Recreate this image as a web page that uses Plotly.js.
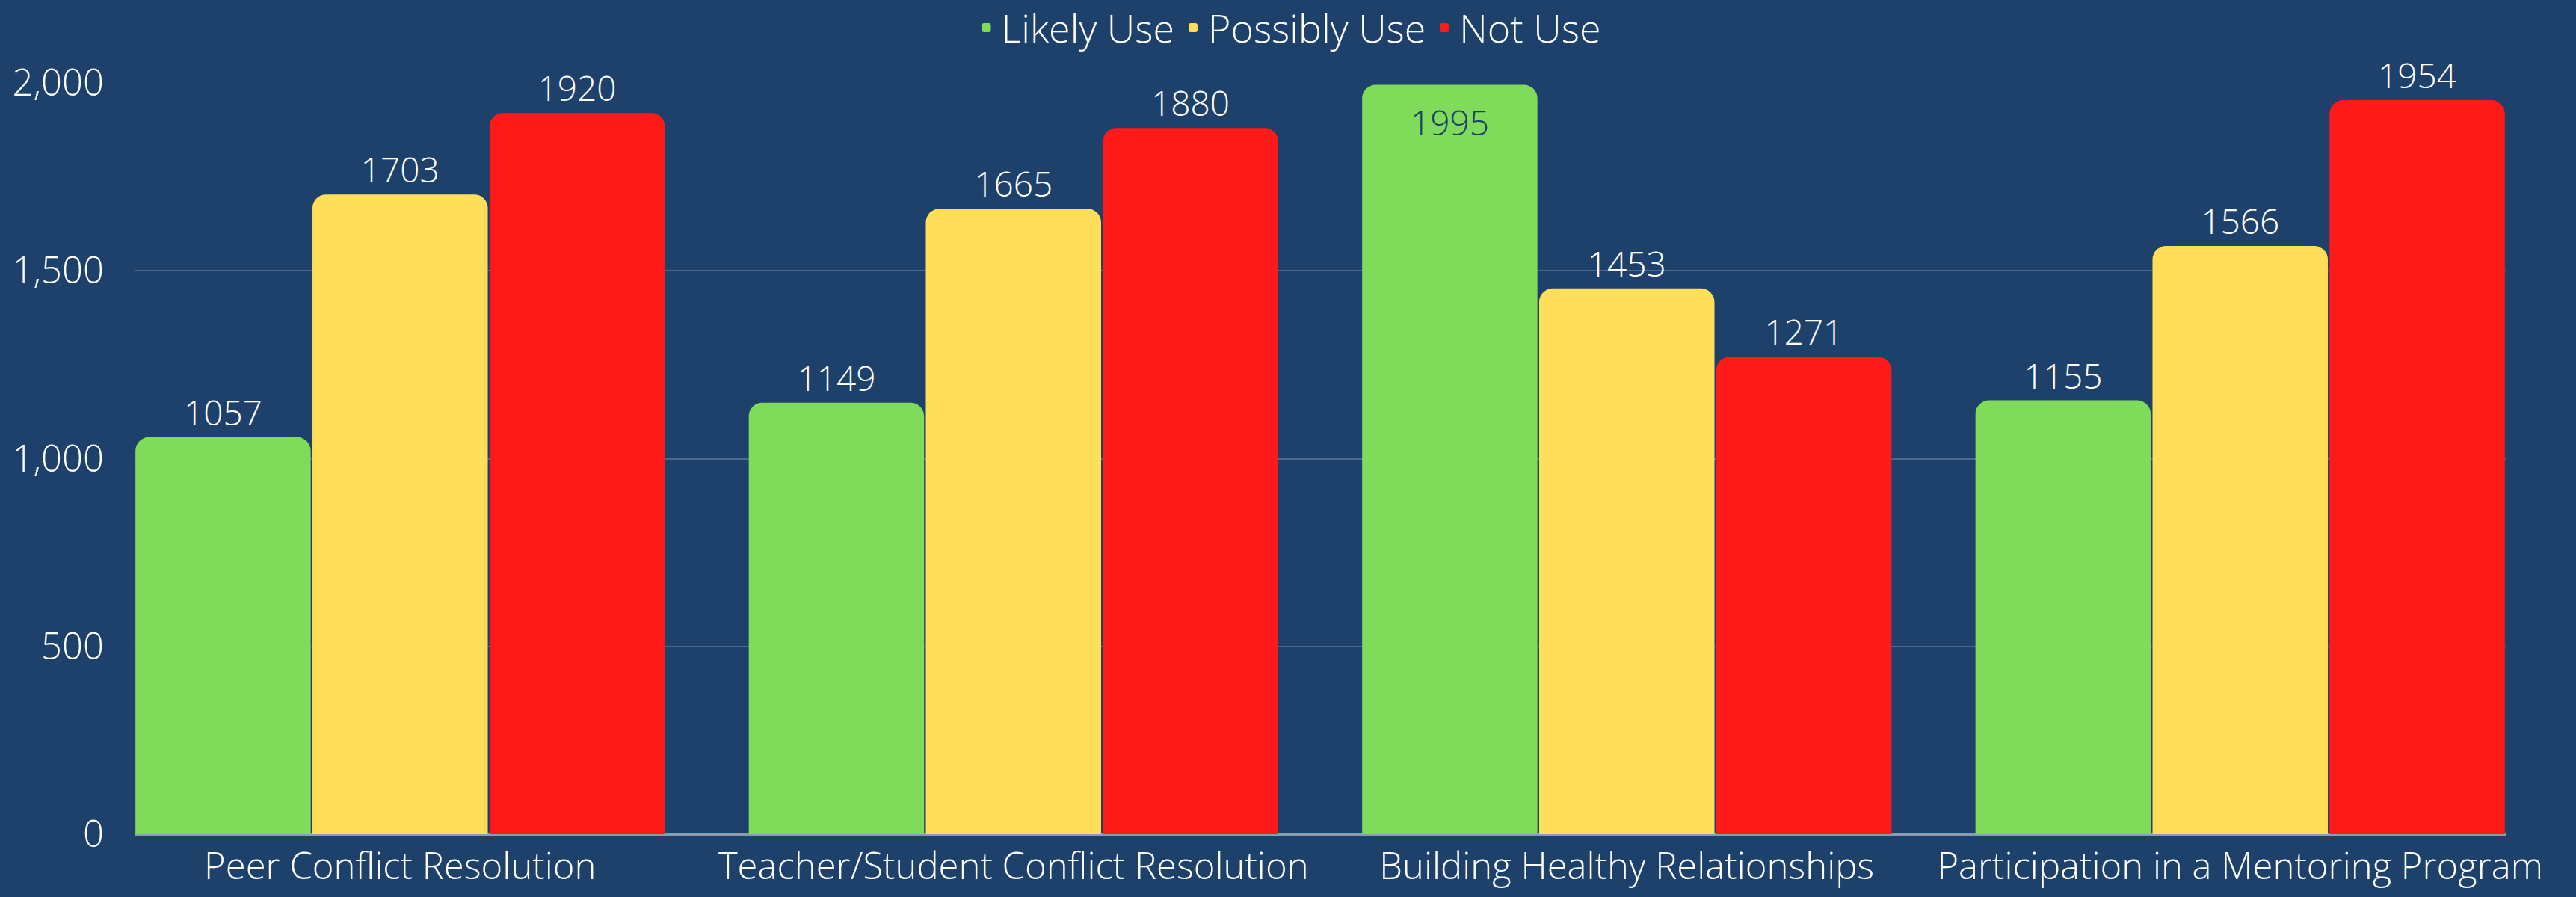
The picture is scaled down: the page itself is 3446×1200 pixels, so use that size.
<!DOCTYPE html>
<html>
<head>
<meta charset="utf-8">
<script src="https://cdn.plot.ly/plotly-3.0.1.min.js"></script>
<style>
  html, body { margin: 0; padding: 0; background: #1E416B; }
  #chart { width: 3446px; height: 1200px; }
</style>
</head>
<body>
<div id="chart"></div>
<script>
const categories = [
  "Peer Conflict Resolution",
  "Teacher/Student Conflict Resolution",
  "Building Healthy Relationships",
  "Participation in a Mentoring Program"
];
const seriesNames = ["Likely Use", "Possibly Use", "Not Use"];
const likelyUse = [1057, 1149, 1995, 1155];
const possiblyUse = [1703, 1665, 1453, 1566];
const notUse = [1920, 1880, 1271, 1954];
const yTicks = [0, 500, 1000, 1500, 2000];

const BG = "#1E416B";
const colors = ["#80DB5A", "#FFDF59", "#FF1A1A"];
const FONT = "Open Sans, Lato, sans-serif";
const yMax = 2000;

function makeTrace(name, values, color) {
  const inside = values.map(v => v > yMax * 0.98);
  return {
    type: "bar",
    name: name,
    x: categories,
    y: values,
    text: values.map(v => String(v)),
    textposition: inside.map(f => f ? "inside" : "outside"),
    insidetextanchor: "end",
    textangle: 0,
    cliponaxis: false,
    textfont: {
      family: FONT, size: 46, weight: 300,
      color: inside.map(f => f ? BG : "#FFFFFF")
    },
    marker: { color: color, cornerradius: 18, line: { width: 0 } },
    hoverinfo: "skip"
  };
}

const data = [
  makeTrace(seriesNames[0], likelyUse, colors[0]),
  makeTrace(seriesNames[1], possiblyUse, colors[1]),
  makeTrace(seriesNames[2], notUse, colors[2])
];

const layout = {
  width: 3446,
  height: 1200,
  paper_bgcolor: BG,
  plot_bgcolor: BG,
  margin: { l: 180, r: 94, t: 111, b: 84, pad: 0 },
  barmode: "group",
  bargap: 0.134,
  bargroupgap: 0.01,
  font: { family: FONT, color: "#FFFFFF", size: 46, weight: 300 },
  showlegend: true,
  legend: {
    orientation: "h",
    xref: "container", yref: "container",
    x: 0.5, xanchor: "center",
    y: 0.969, yanchor: "middle",
    font: { family: FONT, size: 52, color: "#FFFFFF", weight: 300 },
    bgcolor: "rgba(0,0,0,0)",
    itemwidth: 30,
    traceorder: "normal"
  },
  xaxis: {
    type: "category",
    range: [-0.433, 3.433],
    showgrid: false,
    showline: false,
    zeroline: false,
    ticks: "",
    tickfont: { family: FONT, size: 49, color: "#FFFFFF", weight: 300 },
    ticklabelstandoff: 10,
    fixedrange: true
  },
  yaxis: {
    range: [0, yMax],
    tickvals: yTicks,
    tickformat: ",d",
    showgrid: true,
    gridcolor: "#4A6890",
    gridwidth: 2,
    zeroline: true,
    zerolinecolor: "#8A9CB4",
    zerolinewidth: 3,
    showline: false,
    ticks: "",
    ticklabelstandoff: 40,
    tickfont: { family: FONT, size: 49, color: "#FFFFFF", weight: 300 },
    fixedrange: true
  }
};

Plotly.newPlot("chart", data, layout, { displayModeBar: false, staticPlot: true });
</script>
</body>
</html>
